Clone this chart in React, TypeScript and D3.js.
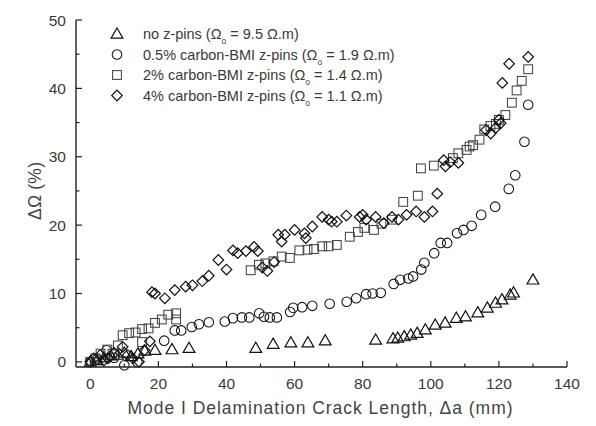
import * as d3 from "d3"

// data: [crack length (mm), delta resistance (%)]
const noPins: [number, number][] = [
  [0, 0], [2, 0.2], [4, 0.6], [6, 0.9], [8, 1], [10, 1.3], [12, 0.8], [14, 1.2], [16, 1.6],
  [19, 1.7], [24, 1.8], [29, 2.0], [48.6, 2.0], [53.7, 2.6], [58.9, 2.8], [63.9, 2.8], [69, 3.1],
  [83.8, 3.2], [88.9, 3.4], [90.3, 3.5], [92.2, 3.7], [94.1, 3.95], [96, 4.2], [98.4, 4.7],
  [101.3, 5.4], [104.2, 5.7], [107.5, 6.4], [110.2, 6.6], [113.8, 7.2], [116.6, 7.9], [119, 8.6],
  [120.9, 9.1], [123.3, 9.8], [124.3, 10.1], [130, 12],
]

const pins05: [number, number][] = [
  [0, 0], [2, 0.4], [4.8, 1.7], [7, 0.6], [10, -0.5], [13.8, 0], [21.7, 3.1], [24.8, 4.6],
  [26.7, 4.6], [29.8, 5.1], [31.9, 5.5], [34.8, 5.8], [39.5, 5.9], [41.9, 6.4], [44.5, 6.5],
  [46.7, 6.5], [49.6, 7.1], [51, 6.6], [52.7, 6.5], [54.8, 6.5], [58.7, 7.3], [59.6, 7.9],
  [62.2, 8.0], [65.2, 8.2], [70.3, 8.5], [75.3, 8.8], [78.1, 9.3], [81, 9.9], [82.9, 10.0],
  [85.3, 10.1], [89.1, 11.4], [91, 12.0], [93.4, 12.2], [94.8, 12.5], [97.2, 13.5], [98.1, 14.5],
  [101, 15.9], [102.9, 17.4], [104.8, 17.4], [107.7, 18.8], [109.6, 19.3], [112, 19.9],
  [114.8, 21.5], [118.9, 22.7], [122.9, 25.3], [124.8, 27.3], [127.5, 32.2], [128.6, 37.6],
]

const pins2: [number, number][] = [
  [0, 0], [1.5, 0.5], [3, 1.2], [5, 1.8], [6.5, 1.2], [8.1, 2.4], [9.5, 3.9], [11.4, 4.2],
  [13.3, 4.3], [15.2, 4.8], [15.2, 2.9], [17.1, 4.9], [19, 5.7], [21, 6.2], [22.9, 6.9],
  [25.2, 7.1], [25.2, 6.2], [47.1, 13.4], [49.5, 14.2], [51.4, 14.4], [53.8, 14.7], [56.2, 15.4],
  [58.6, 15.2], [61.4, 16.3], [63.8, 16.4], [65.7, 16.5], [68.1, 16.9], [70, 16.9], [72.4, 17.1],
  [76.2, 18.3], [78.6, 19.0], [80.5, 19.6], [83.3, 19.3], [85.5, 20.2], [88.6, 20.8],
  [91.9, 23.4], [96.2, 24.3], [97.1, 28.3], [100.9, 28.7], [106.5, 29.8], [108.1, 30.5],
  [110.5, 31], [111.4, 31.5], [112.4, 31.7], [114.3, 32.5], [115.7, 34], [117.5, 34.5],
  [119.1, 34.8], [120, 35.4], [121.9, 36.1], [123.8, 37.9], [125.2, 39.7], [126.7, 41.1],
  [128.6, 42.8],
]

const pins4: [number, number][] = [
  [0, 0], [1, 0.5], [2.9, 1], [4, 0.2], [5.2, 0.5], [7, 1.3], [9.5, 2.2], [11, 1], [12.5, 0.5],
  [14.3, 0], [15.9, 1.7], [17.5, 3], [18.1, 10.2], [19, 10], [21.9, 9.3], [24.8, 10.5], [28, 11],
  [30, 11.2], [32.9, 11.8], [34.8, 12.6], [37.6, 14.9], [40, 13.5], [41.9, 16.3], [43.3, 15.9],
  [45.7, 16.2], [48.1, 16.8], [49.2, 16.2], [50.5, 13.8], [52, 13.3], [54, 14.6], [55.2, 18.6],
  [56.2, 17.6], [57.1, 18.6], [60, 19.3], [62.9, 18.8], [63.3, 18.1], [65.2, 19.8], [68.1, 21.2],
  [70, 20.8], [70.9, 20.5], [72.4, 20.5], [75.2, 21.4], [79.1, 21.2], [80, 21.5], [81, 20.8],
  [83.8, 21.2], [86.2, 20.3], [88.6, 21.2], [90.5, 20.8], [92.9, 21.5], [95.7, 22], [98.1, 21.2],
  [100.5, 22], [101.9, 24.6], [103.8, 29.5], [104.3, 28.6], [105.7, 29.2], [108.1, 29.1],
  [116.2, 33.9], [117.6, 33.4], [119, 34.2], [120, 35.4], [120.5, 34.9], [121, 40.8],
  [123, 43.6], [128.6, 44.6],
]

const xTicks = [0, 20, 40, 60, 80, 100, 120, 140]
const yTicks = [0, 10, 20, 30, 40, 50]

const legendLabels = [
  { pre: "no z-pins (Ω", post: " = 9.5 Ω.m)" },
  { pre: "0.5% carbon-BMI z-pins (Ω", post: " = 1.9 Ω.m)" },
  { pre: "2% carbon-BMI z-pins (Ω", post: " = 1.4 Ω.m)" },
  { pre: "4% carbon-BMI z-pins (Ω", post: " = 1.1 Ω.m)" },
]

const font = "'Liberation Sans', Arial, sans-serif"

function Marker({ kind, x, y }: { kind: number; x: number; y: number }) {
  const stroke = kind === 2 ? "#444" : "#111"
  if (kind === 0) {
    const p = d3.symbol(d3.symbolTriangle, 60)()
    return <path d={p || ""} transform={`translate(${x},${y + 0.8})`} fill="none" stroke={stroke} strokeWidth={1.2} />
  }
  if (kind === 1) return <circle cx={x} cy={y} r={4.8} fill="none" stroke={stroke} strokeWidth={1.05} />
  if (kind === 2) return <rect x={x - 4.4} y={y - 4.4} width={8.8} height={8.8} fill="none" stroke={stroke} strokeWidth={1.05} />
  const d = d3.symbol(d3.symbolSquare, 56)()
  return <path d={d || ""} transform={`translate(${x},${y}) rotate(45)`} fill="none" stroke={stroke} strokeWidth={1.2} />
}

export default function App() {
  const width = 596
  const height = 426
  const x = d3.scaleLinear().domain([-4.2, 140]).range([76, 567])
  const y = d3.scaleLinear().domain([-0.75, 50]).range([367, 20])
  const series = [noPins, pins05, pins2, pins4]
  const xMinor = d3.range(0, 141, 10)
  const yMinor = d3.range(0, 51, 5)

  return (
    <svg width={width} height={height} style={{ position: "absolute", left: 0, top: 0, background: "#fff" }} fontFamily={font}>
      {/* points */}
      {series.map((s, k) => (
        <g key={k}>
          {s.map((d, i) => <Marker key={i} kind={k} x={x(d[0])} y={y(d[1])} />)}
        </g>
      ))}

      {/* axes */}
      <line x1={76} x2={567} y1={367} y2={367} stroke="#222" strokeWidth={1.4} />
      <line x1={76} x2={76} y1={20} y2={367} stroke="#222" strokeWidth={1.4} />
      {xMinor.map((t) => (
        <line key={t} x1={x(t)} x2={x(t)} y1={367} y2={367 - (t % 20 === 0 ? 6 : 3.5)} stroke="#222" strokeWidth={1.2} />
      ))}
      {yMinor.map((t) => (
        <line key={t} x1={76} x2={76 + (t % 10 === 0 ? 6 : 3.5)} y1={y(t)} y2={y(t)} stroke="#222" strokeWidth={1.2} />
      ))}
      {xTicks.map((t) => (
        <text key={t} x={x(t)} y={389} textAnchor="middle" fontSize={15.5} fill="#3a3a3a">{t}</text>
      ))}
      {yTicks.map((t) => (
        <text key={t} x={66} y={y(t) + 5.5} textAnchor="end" fontSize={15.5} fill="#3a3a3a">{t}</text>
      ))}
      <text x={320} y={414} textAnchor="middle" fontSize={17.5} fill="#444" textLength={385} lengthAdjust="spacing">
        Mode I Delamination Crack Length, Δa (mm)
      </text>
      <text transform="translate(41,191) rotate(-90)" textAnchor="middle" fontSize={17.5} fill="#444" textLength={58} lengthAdjust="spacing">
        ΔΩ (%)
      </text>

      {/* legend */}
      {legendLabels.map((l, i) => {
        const ly = 34 + i * 20.5
        return (
          <g key={i}>
            <Marker kind={i} x={117} y={ly} />
            <text x={143} y={ly + 5} fontSize={14.5} fill="#3a3a3a">
              {l.pre}
              <tspan fontSize={8.5} dy={5}>o</tspan>
              <tspan dy={-5}>{l.post}</tspan>
            </text>
          </g>
        )
      })}
    </svg>
  )
}
